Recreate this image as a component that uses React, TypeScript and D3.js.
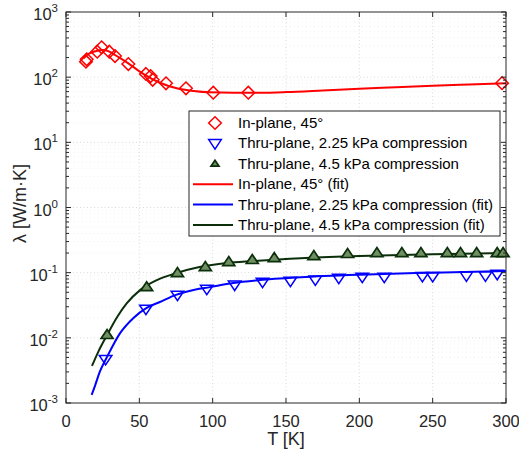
import React from "react";
import * as d3 from "d3";

// ---- data ----
const inPlaneT = [13.6, 14.1, 21.3, 24.3, 29.5, 33.4, 42.5, 54.5, 57.7, 59.1, 68.2, 81.8, 100.4, 124.3, 297.3];
const inPlaneK = [173, 188, 246, 287, 246, 211, 159, 112, 104, 91, 80.5, 67.5, 57.8, 57.8, 81];

const thru225T = [27, 54.5, 76, 96, 115, 134, 153, 170, 186, 202, 217, 243, 250, 273, 286, 294];
const thru225K = [0.0047, 0.0277, 0.0454, 0.056, 0.065, 0.072, 0.0745, 0.078, 0.083, 0.086, 0.086, 0.088, 0.088, 0.09, 0.09, 0.095];

const thru45T = [28, 55, 76, 95, 111, 127, 142, 169, 192, 212, 229, 242, 260, 269, 280, 294, 298];
const thru45K = [0.0111, 0.06, 0.099, 0.122, 0.146, 0.157, 0.168, 0.18, 0.194, 0.2, 0.2, 0.2, 0.2, 0.2, 0.2, 0.2, 0.2];

const fitInT = [12, 15, 20, 25.4, 30, 33.4, 42.5, 52.7, 64, 75.5, 87, 98, 114, 132, 150, 175, 200, 225, 250, 275, 300];
const fitInK = [195, 225, 250, 261, 245, 219, 163, 112, 82, 67.5, 61.4, 58.6, 57.8, 57.8, 59, 62.5, 66.5, 70, 74, 77.5, 81];

const fit225T = [17.5, 20, 23, 28, 37, 46, 55, 64, 75, 87, 98, 114, 132, 160, 200, 250, 300];
const fit225K = [0.00133, 0.0019, 0.003, 0.0051, 0.0119, 0.0202, 0.0288, 0.0355, 0.0457, 0.0542, 0.06, 0.0695, 0.077, 0.085, 0.093, 0.1, 0.106];

const fit45T = [17.7, 22, 28, 35, 41.5, 50.5, 62, 75.5, 91, 109.5, 127.5, 160, 200, 250, 300];
const fit45K = [0.0037, 0.0061, 0.011, 0.021, 0.034, 0.054, 0.077, 0.099, 0.122, 0.141, 0.151, 0.167, 0.18, 0.192, 0.2];

const xTicks = [0, 50, 100, 150, 200, 250, 300];
const yExponents = [-3, -2, -1, 0, 1, 2, 3];

const legendLabels = [
  "In-plane, 45°",
  "Thru-plane, 2.25 kPa compression",
  "Thru-plane, 4.5 kPa compression",
  "In-plane, 45° (fit)",
  "Thru-plane, 2.25 kPa compression (fit)",
  "Thru-plane, 4.5 kPa compression (fit)",
];

// ---- layout ----
const W = 519, H = 460;
const L = 66, R = 506, T = 12, B = 403;
const RED = "#ff0000", BLUE = "#0000ff", GREEN = "#0b2e0b", GREENFILL = "#6f8f62";
const FONT = "'Liberation Sans', Arial, sans-serif";

const x = d3.scaleLinear().domain([0, 300]).range([L, R]);
const y = d3.scaleLog().domain([1e-3, 1e3]).range([B, T]);

const line = d3.line<[number, number]>().x(d => x(d[0])).y(d => y(d[1])).curve(d3.curveMonotoneX);

function zip(a: number[], b: number[]): [number, number][] {
  return a.map((v, i) => [v, b[i]]);
}

function Diamond({ cx, cy, r = 6.3 }: { cx: number; cy: number; r?: number }) {
  return <path d={`M${cx},${cy - r}L${cx + r},${cy}L${cx},${cy + r}L${cx - r},${cy}Z`} fill="none" stroke={RED} strokeWidth={1.5} />;
}
function TriDown({ cx, cy, r = 6.3 }: { cx: number; cy: number; r?: number }) {
  return <path d={`M${cx - r},${cy - r * 0.6}L${cx + r},${cy - r * 0.6}L${cx},${cy + r * 0.9}Z`} fill="none" stroke={BLUE} strokeWidth={1.5} />;
}
function TriUp({ cx, cy, r = 6 }: { cx: number; cy: number; r?: number }) {
  return <path d={`M${cx - r},${cy + r * 0.6}L${cx + r},${cy + r * 0.6}L${cx},${cy - r * 0.9}Z`} fill={GREENFILL} stroke={GREEN} strokeWidth={1.7} />;
}

export default function App() {
  const minorY: number[] = [];
  for (let e = -3; e < 3; e++) for (let m = 2; m <= 9; m++) minorY.push(m * Math.pow(10, e));

  const legX0 = 189, legY0 = 111, legX1 = 500, legY1 = 236;
  const rowY = (i: number) => 123 + i * 20.4;

  return (
    <div style={{ position: "absolute", left: 0, top: 0 }}>
      <svg width={W} height={H} style={{ display: "block", background: "#fff" }} fontFamily={FONT}>
        <rect x={0} y={0} width={W} height={H} fill="#fff" />
        {/* grid */}
        <g stroke="#c8c8c8" strokeWidth={0.7} strokeDasharray="1,2.5">
          {xTicks.slice(1, -1).map(t => <line key={"gx" + t} x1={x(t)} x2={x(t)} y1={T} y2={B} />)}
          {yExponents.slice(1, -1).map(e => <line key={"gy" + e} x1={L} x2={R} y1={y(Math.pow(10, e))} y2={y(Math.pow(10, e))} />)}
        </g>
        <g stroke="#e6e6e6" strokeWidth={0.6} strokeDasharray="1,3">
          {minorY.map(v => <line key={"gm" + v} x1={L} x2={R} y1={y(v)} y2={y(v)} />)}
        </g>

        {/* fit lines */}
        <path d={line(zip(fitInT, fitInK)) || ""} fill="none" stroke={RED} strokeWidth={2} />
        <path d={line(zip(fit225T, fit225K)) || ""} fill="none" stroke={BLUE} strokeWidth={2} />
        <path d={line(zip(fit45T, fit45K)) || ""} fill="none" stroke={GREEN} strokeWidth={2} />

        {/* markers */}
        {inPlaneT.map((t, i) => <Diamond key={"d" + i} cx={x(t)} cy={y(inPlaneK[i])} />)}
        {thru225T.map((t, i) => <TriDown key={"b" + i} cx={x(t)} cy={y(thru225K[i])} />)}
        {thru45T.map((t, i) => <TriUp key={"g" + i} cx={x(t)} cy={y(thru45K[i])} />)}

        {/* axes box */}
        <rect x={L} y={T} width={R - L} height={B - T} fill="none" stroke="#262626" strokeWidth={1} />
        <g stroke="#262626" strokeWidth={1}>
          {xTicks.map(t => (
            <g key={"xt" + t}>
              <line x1={x(t)} x2={x(t)} y1={B} y2={B - 5} />
              <line x1={x(t)} x2={x(t)} y1={T} y2={T + 5} />
            </g>
          ))}
          {yExponents.map(e => (
            <g key={"yt" + e}>
              <line x1={L} x2={L + 5} y1={y(Math.pow(10, e))} y2={y(Math.pow(10, e))} />
              <line x1={R} x2={R - 5} y1={y(Math.pow(10, e))} y2={y(Math.pow(10, e))} />
            </g>
          ))}
          {minorY.map(v => (
            <g key={"ym" + v}>
              <line x1={L} x2={L + 3} y1={y(v)} y2={y(v)} />
              <line x1={R} x2={R - 3} y1={y(v)} y2={y(v)} />
            </g>
          ))}
        </g>

        {/* tick labels */}
        <g fill="#262626" fontSize={16.5}>
          {xTicks.map(t => (
            <text key={"xl" + t} x={x(t)} y={B + 24} textAnchor="middle">{t}</text>
          ))}
          {yExponents.map(e => {
            const yy = y(Math.pow(10, e));
            return (
              <text key={"yl" + e} x={58} y={yy + 8} textAnchor="end">
                10<tspan dy={-8} fontSize={11.5}>{e}</tspan>
              </text>
            );
          })}
        </g>

        {/* axis labels */}
        <text x={(L + R) / 2} y={445} textAnchor="middle" fontSize={18} fill="#262626">T [K]</text>
        <text transform={`translate(26,${(T + B) / 2 - 4}) rotate(-90)`} textAnchor="middle" fontSize={18} fill="#262626">λ [W/m·K]</text>

        {/* legend */}
        <rect x={legX0} y={legY0} width={legX1 - legX0} height={legY1 - legY0} fill="#fff" stroke="#262626" strokeWidth={1} />
        <Diamond cx={215} cy={rowY(0)} />
        <TriDown cx={215} cy={rowY(1)} />
        <TriUp cx={215} cy={rowY(2)} r={4} />
        <line x1={193} x2={233} y1={rowY(3)} y2={rowY(3)} stroke={RED} strokeWidth={2} />
        <line x1={193} x2={233} y1={rowY(4)} y2={rowY(4)} stroke={BLUE} strokeWidth={2} />
        <line x1={193} x2={233} y1={rowY(5)} y2={rowY(5)} stroke={GREEN} strokeWidth={2} />
        <g fontSize={15} fill="#000">
          {legendLabels.map((s, i) => (
            <text key={"lg" + i} x={238} y={rowY(i) + 5}>{s}</text>
          ))}
        </g>
      </svg>
    </div>
  );
}
